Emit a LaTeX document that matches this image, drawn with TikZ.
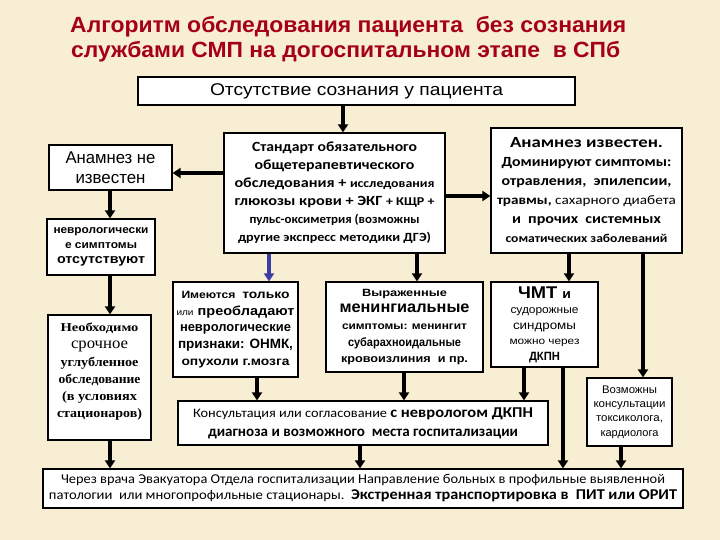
\documentclass[tikz,border=0pt]{standalone}
\usepackage{graphicx}
\usepackage{fontspec}
\setmainfont{Liberation Sans}
\newfontfamily\calf{Carlito}
\newfontfamily\tmsf{Liberation Serif}
\usetikzlibrary{arrows.meta}
\definecolor{bg}{RGB}{248,238,212}
\definecolor{titlered}{RGB}{165,0,25}
\definecolor{arrblue}{RGB}{60,60,165}
\newsavebox\fwbox
\newcommand\fw[2]{\sbox\fwbox{#2}\scalebox{\fpeval{(#1)/(\the\wd\fwbox)}}[1]{\usebox\fwbox}}
\newcommand\fsz[1]{\fontsize{#1}{#1}\selectfont}
\begin{document}
\begin{tikzpicture}[x=1pt,y=-1pt,
  bx/.style={draw=black,line width=1.2pt,fill=white,inner sep=0pt,align=center},
  ttl/.style={inner sep=0pt,text=titlered,font=\bfseries\fontsize{22}{24}\selectfont},
  arr/.style={line width=3.5pt,-{Triangle[length=8pt,width=10pt]}}]
\useasboundingbox[fill=bg] (0,0) rectangle (720,540);

\node[ttl,anchor=west] (t1) at (70,27) {\fw{556}{Алгоритм обследования пациента\ \ без сознания}};
\node[ttl,anchor=west] (t2) at (71,52) {\fw{549}{службами СМП на догоспитальном этапе\ \ в СПб}};

\node[bx,minimum width=437pt,minimum height=28pt,font=\fontsize{17}{19}\selectfont] (top) at (356.5,91)
  {\fw{293}{Отсутствие сознания у пациента}};

\node[bx,minimum width=221pt,minimum height=120pt,font=\calf\bfseries\fontsize{14}{18}\selectfont] (std) at (334.5,193)
  {\fw{165}{Стандарт обязательного}\\
   \fw{160}{общетерапевтического}\\
   \fw{200}{обследования + {\fsz{12}исследования}}\\
   \fw{200}{глюкозы крови + ЭКГ {\fsz{12}+ КЩР +}}\\
   \fw{170}{\fsz{12.5}пульс-оксиметрия (возможны}\\
   \fw{193}{\fsz{12.5}другие экспресс методики ДГЭ)}};

\node[bx,minimum width=191pt,minimum height=125pt,font=\calf\bfseries\fontsize{14}{19}\selectfont] (known) at (586.5,190.5)
  {\fw{153}{\fsz{15.5}Анамнез известен.}\\
   \fw{170}{Доминируют симптомы:}\\
   \fw{170}{отравления,\ \ эпилепсии,}\\
   \fw{179}{\fsz{13}травмы, {\mdseries сахарного диабета}}\\
   \fw{149}{и\ \ прочих\ \ системных}\\
   \fw{162}{\fsz{12}соматических заболеваний}};

\node[bx,minimum width=123pt,minimum height=45pt,font=\fontsize{17}{20}\selectfont] (anon) at (110.5,167.5)
  {\fw{90}{Анамнез не}\\\fw{70}{известен}};

\node[bx,minimum width=108pt,minimum height=56pt,font=\bfseries\fontsize{12}{15}\selectfont] (nevr) at (101,247)
  {\fw{95}{\fsz{11}неврологически}\\\fw{72}{\fsz{11}е симптомы}\\\fw{88}{\fsz{13}отсутствуют}};

\node[bx,minimum width=103pt,minimum height=125pt,text depth=14pt,font=\tmsf\bfseries\fontsize{13}{17.2}\selectfont] (urgent) at (99.5,377.5)
  {\fw{78}{\fsz{12}Необходимо}\\\fw{57}{\mdseries\fsz{16}срочное}\\\fw{78}{углубленное}\\\fw{82}{обследование}\\\fw{75}{(в условиях}\\\fw{85}{стационаров)}};

\node[bx,minimum width=125pt,minimum height=95pt,font=\bfseries\fontsize{13}{16.7}\selectfont] (only) at (235.5,329.5)
  {\fw{108}{\fsz{10.5}Имеются\ \ {\fsz{12}только}}\\
   \fw{118}{{\mdseries\fsz{9}или} преобладают}\\
   \fw{111}{неврологические}\\
   \fw{115}{\fsz{13.5}признаки: ОНМК,}\\
   \fw{108}{\fsz{12}опухоли г.мозга}};

\node[bx,minimum width=157pt,minimum height=90pt,font=\bfseries\fontsize{12}{16.7}\selectfont] (men) at (404.5,327)
  {\fw{85}{\fsz{10.5}Выраженные}\\
   \fw{130}{\fsz{16}менингиальные}\\
   \fw{125}{\fsz{10.5}симптомы: менингит}\\
   \fw{113}{\fsz{12}субарахноидальные}\\
   \fw{127}{\fsz{11}кровоизлиния\ \ и пр.}};

\node[bx,minimum width=107pt,minimum height=85pt,font=\fontsize{11}{15.5}\selectfont] (tbi) at (544.5,324.5)
  {\fw{53}{\bfseries\fsz{17}ЧМТ {\fsz{13}и}}\\
   \fw{68}{\fsz{11}судорожные}\\
   \fw{63}{\fsz{12}синдромы}\\
   \fw{70}{\fsz{10}можно через}\\
   \fw{31}{\bfseries\fsz{12}ДКПН}};

\node[bx,minimum width=370pt,minimum height=44pt,font=\calf\fontsize{14}{19}\selectfont] (cons) at (363,423)
  {\fw{340}{\fsz{13}Консультация или согласование {\bfseries\fsz{15}с неврологом ДКПН}}\\
   \fw{310}{\bfseries\fsz{15}диагноза и возможного\ \ места госпитализации}};

\node[bx,minimum width=85pt,minimum height=68pt,font=\fontsize{11}{14.3}\selectfont] (tox) at (629.5,412)
  {\fw{55}{Возможны}\\\fw{72}{консультации}\\\fw{67}{токсиколога,}\\\fw{58}{кардиолога}};

\node[bx,minimum width=640pt,minimum height=39pt,font=\calf\fontsize{13.5}{16}\selectfont] (bot) at (363,488.5)
  {\fw{604}{Через врача Эвакуатора Отдела госпитализации Направление больных в профильные выявленной}\\
   \fw{628}{патологии\ \ или многопрофильные стационары.\ \ {\bfseries\fsz{15}Экстренная транспортировка в\ \ ПИТ или ОРИТ}}};

\draw[arr] (top.south -| 343,0) -- (std.north -| 343,0);
\draw[arr] (std.west |- 0,173) -- (anon.east |- 0,173);
\draw[arr] (std.east |- 0,196) -- (known.west |- 0,196);
\draw[arr] (anon.south -| 110,0) -- (nevr.north -| 110,0);
\draw[arr] (nevr.south -| 110,0) -- (urgent.north -| 110,0);
\draw[arr,color=arrblue] (std.south -| 269,0) -- (only.north -| 269,0);
\draw[arr] (std.south -| 417,0) -- (men.north -| 417,0);
\draw[arr] (known.south -| 569,0) -- (tbi.north -| 569,0);
\draw[arr] (known.south -| 643,0) -- (tox.north -| 643,0);
\draw[arr] (only.south -| 257,0) -- (cons.north -| 257,0);
\draw[arr] (men.south -| 404,0) -- (cons.north -| 404,0);
\draw[arr] (tbi.south -| 524,0) -- (cons.north -| 524,0);
\draw[arr] (tbi.south -| 563,0) -- (bot.north -| 563,0);
\draw[arr] (tox.south -| 621,0) -- (bot.north -| 621,0);
\draw[arr] (cons.south -| 360,0) -- (bot.north -| 360,0);
\draw[arr] (urgent.south -| 110,0) -- (bot.north -| 110,0);
\end{tikzpicture}
\end{document}
